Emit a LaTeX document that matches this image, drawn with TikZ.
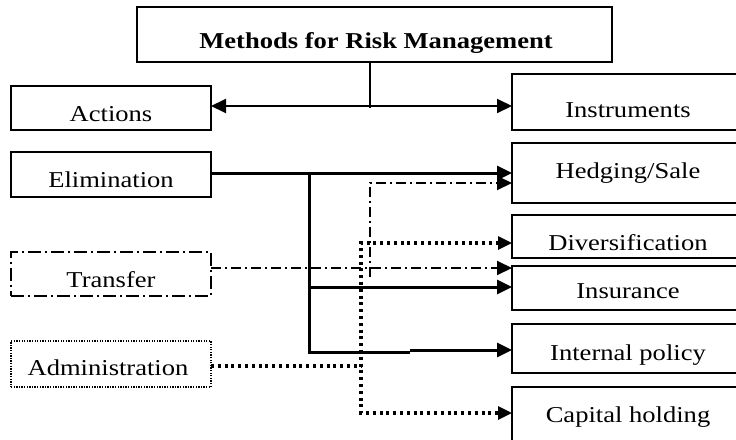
\documentclass[tikz,border=0pt]{standalone}
\usepackage{fontspec}
\setmainfont[FakeStretch=1.17]{Liberation Serif}
\usetikzlibrary{arrows.meta}
\begin{document}
\begin{tikzpicture}[x=1pt,y=-1pt,
  box/.style={draw, line width=1.4pt, inner sep=0pt, outer sep=0pt},
  dashbox/.style={box, dash pattern=on 13pt off 4pt on 2pt off 4pt},
  dotbox/.style={box, dash pattern=on 1.3pt off 1.3pt},
  lbl/.style={font=\fontsize{22.7}{27}\selectfont, anchor=base, inner sep=0pt},
  tip/.style={-{Triangle[length=15pt,width=14pt]}},
  tipboth/.style={{Triangle[length=14pt,width=13pt]}-{Triangle[length=14pt,width=13pt]}},
  solidc/.style={line width=3pt},
  dashc/.style={line width=2pt, dash pattern=on 10pt off 4pt on 2pt off 4pt},
  dotc/.style={line width=3.2pt, dash pattern=on 3pt off 3.8pt}]
\useasboundingbox (0,0) rectangle (736,439);
\clip (0,0) rectangle (736,439);
% boxes
\node[box, minimum width=475pt, minimum height=55pt] (top) at (374.5,34.5) {};
\node[box, minimum width=200pt, minimum height=44pt] (act) at (111,108) {};
\node[box, minimum width=233pt, minimum height=56pt] (instr) at (628.5,102) {};
\node[box, minimum width=200pt, minimum height=45pt] (elim) at (111,174.5) {};
\node[dashbox, minimum width=200pt, minimum height=44pt] (trans) at (111,274) {};
\node[dotbox, minimum width=200pt, minimum height=46pt] (adm) at (111,364) {};
\node[box, minimum width=233pt, minimum height=60pt] (hedge) at (628.5,173) {};
\node[box, minimum width=233pt, minimum height=43pt] (div) at (628.5,236.5) {};
\node[box, minimum width=233pt, minimum height=44pt] (ins) at (628.5,288) {};
\node[box, minimum width=233pt, minimum height=49pt] (intp) at (628.5,348.5) {};
\node[box, minimum width=233pt, minimum height=58pt] (cap) at (628.5,416) {};
% labels
\node[lbl] (ttop) at (376,48) {\bfseries Methods for Risk Management};
\node[lbl] (tact) at (111,121) {Actions};
\node[lbl] (tinstr) at (628,117) {Instruments};
\node[lbl] (telim) at (111,187) {Elimination};
\node[lbl] (ttrans) at (111,287) {Transfer};
\node[lbl] (tadm) at (108,375) {Administration};
\node[lbl] (thedge) at (628,178) {Hedging/Sale};
\node[lbl] (tdiv) at (628,250) {Diversification};
\node[lbl] (tins) at (628,298) {Insurance};
\node[lbl] (tintp) at (628,360) {Internal policy};
\node[lbl] (tcap) at (628,422) {Capital holding};
% top connector
\coordinate (j) at (370,106);
\coordinate (j2) at (370,108);
\draw[line width=1.1pt] (top.south -| j) -- (j2);
\draw[line width=2pt, {Triangle[length=15pt,width=14pt]}-{Triangle[length=15pt,width=14pt]}] (act.east |- j) -- (instr.west |- j);
% elimination
\coordinate (e1) at (309,173);
\coordinate (e2) at (309,287);
\coordinate (e3) at (309,352);
\coordinate (e4) at (410,352);
\coordinate (e5) at (410,350);
\draw[solidc] (elim.east |- e1) -- (e1) -- (e3) -- (e4);
\draw[solidc, tip] (e1) -- (hedge.west |- e1);
\draw[solidc, tip] (e2) -- (ins.west |- e2);
\draw[solidc, tip] (e5) -- (intp.west |- e5);
% transfer
\coordinate (t1) at (370,268);
\coordinate (t2) at (370,277);
\coordinate (t3) at (370,183);
\draw[dashc, tip] (trans.east |- t1) -- (ins.west |- t1);
\draw[dashc, tip] (t2) -- (t3) -- (hedge.west |- t3);
% administration
\coordinate (a1) at (361,366);
\coordinate (d1) at (361,243);
\coordinate (d2) at (361,413);
\draw[dotc] (adm.east |- a1) -- (a1);
\draw[dotc, tipboth] (div.west |- d1) -- (d1) -- (d2) -- (cap.west |- d2);
\end{tikzpicture}
\end{document}
